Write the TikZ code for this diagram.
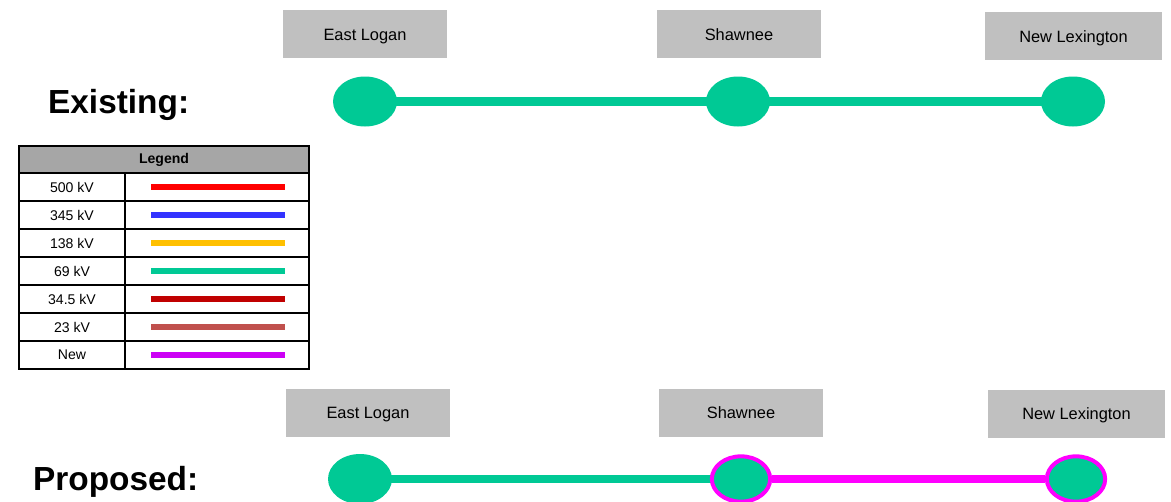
\documentclass[tikz,border=0pt]{standalone}
\usepackage{fontspec}
\setmainfont{Liberation Sans}
\usetikzlibrary{shapes.geometric}
\definecolor{kvgreen}{HTML}{00C995}
\definecolor{boxgray}{HTML}{C0C0C0}
\definecolor{headgray}{HTML}{A6A6A6}
\definecolor{kvred}{HTML}{FF0000}
\definecolor{kvblue}{HTML}{3333FF}
\definecolor{kvorange}{HTML}{FFC000}
\definecolor{kvdarkred}{HTML}{C00000}
\definecolor{kvbrick}{HTML}{C0504D}
\definecolor{kvnew}{HTML}{CC00F5}
\definecolor{magline}{HTML}{FF00FF}
\tikzset{
    station/.style={fill=boxgray, minimum width=4.92cm, minimum height=1.44cm,
        inner sep=0pt, text height=11pt, text depth=0pt, font=\fontsize{14}{16}\selectfont},
    bus/.style={ellipse, fill=kvgreen, minimum width=1.92cm, minimum height=1.5cm, inner sep=0pt},
    newbus/.style={bus, draw=magline, line width=3.4pt, minimum width=1.75cm, minimum height=1.36cm},
    oldline/.style={kvgreen, line width=7.6pt},
    newline/.style={magline, line width=7.6pt},
    title/.style={anchor=base west, font=\fontsize{28.5}{32}\selectfont\bfseries},
    legtext/.style={font=\fontsize{12}{14}\selectfont}
}
\begin{document}
\begin{tikzpicture}[x=0.03cm, y=-0.03cm]
    \useasboundingbox (0,0) rectangle (1171,502);

    % 1. Hiện trạng
    \node[title] (existing) at (44,113) {Existing:};
    \node[station] (elbox1) at (365,34) {East Logan};
    \node[station] (shbox1) at (739,34) {Shawnee};
    \node[station, minimum width=5.31cm] (nlbox1) at (1073.5,36) {New Lexington};
    \node[bus] (el1) at (365,101.5) {};
    \node[bus] (sh1) at (738,101.5) {};
    \node[bus] (nl1) at (1073,101.5) {};
    \draw[oldline] (el1.center) -- (sh1.center);
    \draw[oldline] (sh1.center) -- (nl1.center);

    % 2. Chú giải
    \fill[headgray] (19,146) rectangle (309,173);
    \node[font=\fontsize{12}{14}\selectfont\bfseries] (legend) at (164,159.5) {Legend};
    \foreach \lbl/\col [count=\i] in {500 kV/kvred, 345 kV/kvblue, 138 kV/kvorange,
            69 kV/kvgreen, 34.5 kV/kvdarkred, 23 kV/kvbrick, New/kvnew} {
        \node[legtext] (leg\i) at (72,{159+28*\i}) {\lbl};
        \draw[\col, line width=4.3pt] (151,{159+28*\i}) -- (285,{159+28*\i});
        \draw[line width=1.3pt] (19,{173+28*\i}) -- (309,{173+28*\i});
    }
    \draw[line width=1.3pt] (19,173) -- (309,173);
    \draw[line width=1.3pt] (125,173) -- (125,369);
    \draw[line width=1.8pt] (19,146) rectangle (309,369);

    % 3. Đề xuất
    \node[title] (proposed) at (29,490) {Proposed:};
    \node[station] (elbox2) at (368,412.5) {East Logan};
    \node[station] (shbox2) at (741,412.5) {Shawnee};
    \node[station, minimum width=5.31cm] (nlbox2) at (1076.5,413.5) {New Lexington};
    \node[bus] (el2) at (360,479) {};
    \draw[oldline] (el2.center) -- (741,479);
    \node[newbus] (sh2) at (741,479) {};
    \node[newbus] (nl2) at (1076,479) {};
    \draw[newline] (sh2) -- (nl2);
\end{tikzpicture}
\end{document}
